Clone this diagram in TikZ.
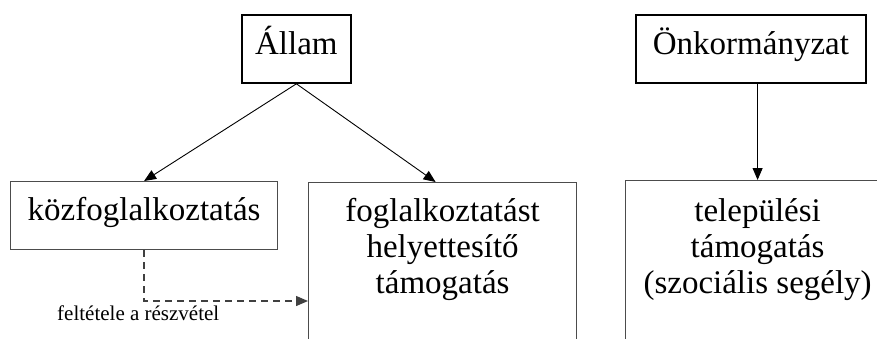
\documentclass[tikz,border=0pt]{standalone}
\usepackage{fontspec}
\setmainfont{Liberation Serif}
\usetikzlibrary{arrows.meta,positioning}
\tikzset{
  topbox/.style={draw=black, line width=1.8pt, inner sep=0pt, minimum height=68pt},
  subbox/.style={draw=black!70, line width=1.2pt, inner sep=0pt},
  boxtext/.style={font=\fontsize{33}{36}\selectfont, align=center, inner sep=0pt},
  link/.style={-{Triangle[length=12pt,width=10pt]}, line width=0.9pt},
}
\begin{document}
\begin{tikzpicture}[x=1pt,y=-1pt]
  \useasboundingbox (0,0) rectangle (877,338);
  % top boxes
  \node[topbox, minimum width=109pt, anchor=north west] (allam) at (241,14) {};
  \node[boxtext, anchor=base, yshift=-40pt] (allamtext) at (allam.north) {Állam};
  \node[topbox, minimum width=230pt, anchor=north west] (onk) at (635,14) {};
  \node[boxtext, anchor=base, yshift=-40pt] (onktext) at (onk.north) {Önkormányzat};

  % lower boxes (cut off by the page edge)
  \node[subbox, minimum width=267pt, minimum height=68pt, anchor=north west] (kozf) at (10,181) {};
  \node[boxtext, anchor=base, yshift=-39pt] (kozftext) at (kozf.north) {közfoglalkoztatás};
  \node[subbox, minimum width=268pt, minimum height=180pt, anchor=north west] (fogl) at (308,182) {};
  \node[boxtext, anchor=base, yshift=-111pt] (fogltext) at (fogl.north) {foglalkoztatást\\helyettesítő\\támogatás};
  \node[subbox, minimum width=264pt, minimum height=180pt, anchor=north west] (tel) at (625,180) {};
  \node[boxtext, anchor=base, yshift=-113pt] (teltext) at (tel.north) {települési\\támogatás\\(szociális segély)};

  % arrows
  \draw[link] (allam.south) -- (kozf.north);
  \draw[link] (allam.south) -- ([xshift=-7pt]fogl.north);
  \draw[link] (tel.north |- onk.south) -- (tel.north);

  % condition
  \coordinate (turn) at (kozf.south |- 0,301);
  \draw[link, dashed, dash pattern=on 7pt off 5pt, draw=black!75, line width=1.3pt] (kozf.south) -- (turn) -- (turn -| fogl.west);
  \node[font=\fontsize{21}{24}\selectfont, anchor=base west, inner sep=0pt] (cond) at (57,320) {feltétele a részvétel};
\end{tikzpicture}
\end{document}
